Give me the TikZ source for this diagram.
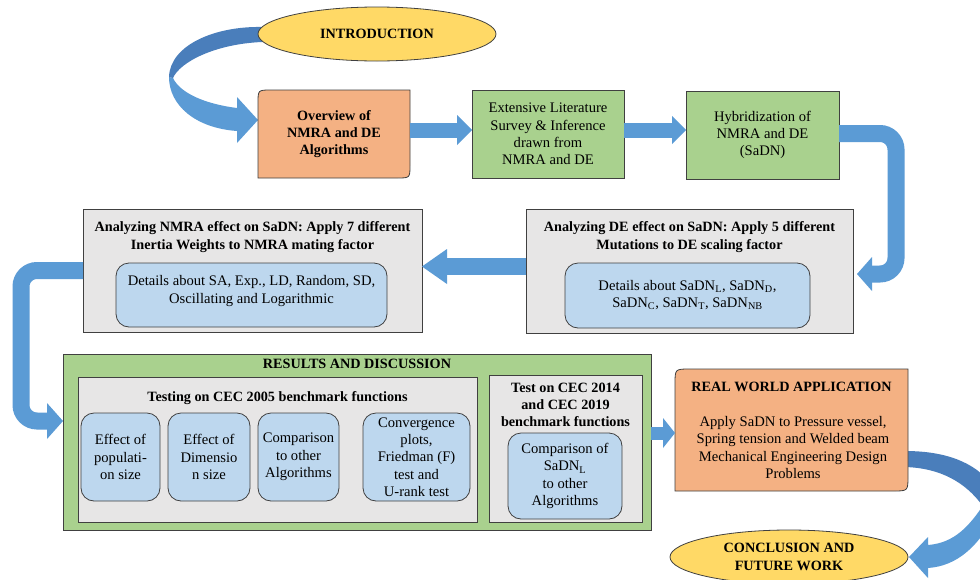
\documentclass[tikz,border=0pt]{standalone}
\usepackage{fontspec}
\setmainfont{Liberation Serif}
\usetikzlibrary{shapes.geometric,calc}
\definecolor{yel}{HTML}{FFD966}
\definecolor{ora}{HTML}{F4B183}
\definecolor{grn}{HTML}{A9D18E}
\definecolor{gry}{HTML}{E7E6E6}
\definecolor{lblu}{HTML}{BDD7EE}
\definecolor{arr}{HTML}{5B9BD5}
\definecolor{arrdk}{HTML}{4A7EBB}
\definecolor{edge}{HTML}{404040}
\tikzset{
  txt/.style={font=\fontsize{14.6}{17.3}\selectfont, align=center, inner sep=0pt, outer sep=0pt},
  btxt/.style={txt, font=\fontsize{14.2}{17.3}\selectfont\bfseries},
  box/.style={draw=edge, line width=0.8pt, inner sep=0pt, outer sep=0pt},
  rbox/.style={box, fill=lblu, rounded corners=13pt},
  oval/.style={box, ellipse, fill=yel, minimum width=238pt, minimum height=54pt},
  shaft/.style={draw=arr, line width=#1},
  shaft/.default=15pt,
  head/.style={fill=arr},
  headdk/.style={fill=arrdk},
}
\begin{document}
\begin{tikzpicture}[x=1pt,y=-1pt]
\clip (0,0) rectangle (980,579);
\fill[white] (0,0) rectangle (980,579);

% ---------- twisted ribbon: introduction -> overview
\fill[arr] (169,77) .. controls (169,105) and (195,128) .. (237,131) -- (237,143) -- (258,120) -- (237,97) -- (237,108) .. controls (205,104) and (180,93) .. (173,78) -- cycle;
\fill[arrdk] (262,27) .. controls (215,26) and (170,45) .. (169,77) -- (173,78) .. controls (180,62) and (215,44) .. (262,42) -- cycle;

% ---------- twisted ribbon: real world -> conclusion
\fill[arr] (992,496) -- (984,504) .. controls (970,525) and (955,543) .. (928,545) -- (928,537) -- (909,557) -- (928,578) -- (928,568) .. controls (958,566) and (978,545) .. (992,520) -- cycle;
\fill[arrdk] (905,451) .. controls (945,451) and (975,462) .. (992,485) -- (992,510) -- (982,505) .. controls (965,482) and (940,468) .. (905,467) -- cycle;

% ---------- top row
\node[oval, btxt] (intro) at (377,34) {INTRODUCTION};

\draw[box, fill=ora] (258,178) -- (258,103) .. controls (258,90) .. (271,90) -- (410,90) -- (410,165) .. controls (410,178) .. (397,178) -- cycle;
\node[btxt, minimum width=152pt, minimum height=88pt] (ov) at (334,134) {Overview of\\NMRA and DE\\Algorithms};

\node[box, txt, fill=grn, minimum width=152pt, minimum height=88pt] (ext) at (548,134) {Extensive Literature\\Survey \& Inference\\drawn from\\NMRA and DE};

\node[box, txt, fill=grn, minimum width=153pt, minimum height=88pt] (hyb) at (762.5,135) {Hybridization of\\NMRA and DE\\(SaDN)};

% ---------- second row
\node[box, fill=gry, minimum width=339pt, minimum height=123pt] (nmra) at (252.5,270.5) {};
\node[btxt] (nmrat) at (252.5,237) {Analyzing NMRA effect on SaDN: Apply 7 different\\Inertia Weights to NMRA mating factor};
\node[rbox, minimum width=271pt, minimum height=64pt] (nmrad) at (251.5,295) {};
\node[txt] (nmradt) at (251.5,291) {Details about SA, Exp., LD, Random, SD,\\Oscillating and Logarithmic};

\node[box, fill=gry, minimum width=327pt, minimum height=124pt] (de) at (689.5,271) {};
\node[btxt] (det) at (689.5,237) {Analyzing DE effect on SaDN: Apply 5 different\\Mutations to DE scaling factor};
\node[rbox, minimum width=245pt, minimum height=65pt] (ded) at (687.5,295.5) {};
\node[txt] (dedt) at (687.5,295) {Details about SaDN\textsubscript{L}, SaDN\textsubscript{D},\\SaDN\textsubscript{C}, SaDN\textsubscript{T}, SaDN\textsubscript{NB}};

% ---------- results
\node[box, fill=grn, minimum width=588pt, minimum height=176pt] (res) at (357,442) {};
\node[btxt] (rest) at (357,364) {RESULTS AND DISCUSSION};
\node[box, fill=gry, minimum width=399pt, minimum height=145pt] (cec05) at (277.5,449.5) {};
\node[btxt] (cec05t) at (277.5,398) {Testing on CEC 2005 benchmark functions};
\node[rbox, txt, minimum width=79pt, minimum height=88pt] (b1) at (120.5,457) {Effect of\\populati-\\on size};
\node[rbox, txt, minimum width=82pt, minimum height=88pt] (b2) at (209,457) {Effect of\\Dimensio\\n size};
\node[rbox, txt, minimum width=81pt, minimum height=88pt] (b3) at (298.5,457) {Comparison\\to other\\Algorithms};
\node[rbox, txt, minimum width=107pt, minimum height=88pt] (b4) at (416.5,457) {Convergence\\plots,\\Friedman (F)\\test and\\U-rank test};

\node[box, fill=gry, minimum width=153pt, minimum height=147pt] (cec14) at (565.5,448.5) {};
\node[btxt] (cec14t) at (565.5,405) {Test on CEC 2014\\and CEC 2019\\benchmark functions};
\node[rbox, txt, minimum width=114pt, minimum height=86pt] (b5) at (565,476) {Comparison of\\SaDN\textsubscript{L}\\to other\\Algorithms};

% ---------- real world
\draw[box, fill=ora] (675,491) -- (675,384) .. controls (675,369) .. (690,369) -- (908,369) -- (908,476) .. controls (908,491) .. (893,491) -- cycle;
\node[minimum width=233pt, minimum height=122pt, inner sep=0pt, outer sep=0pt] (rw) at (791.5,430) {};
\node[btxt] (rwt) at (791.5,387) {REAL WORLD APPLICATION};
\node[txt] (rwb) at (793,447.5) {Apply SaDN to Pressure vessel,\\Spring tension and Welded beam\\Mechanical Engineering Design\\Problems};

\node[oval, btxt] (conc) at (789,557) {CONCLUSION AND\\FUTURE WORK};

% ---------- straight block arrows
\draw[shaft] (ov.east |- 0,130) coordinate (a1s) -- ($(ext.west |- a1s)+(-15,0)$);
\fill[head] (ext.west |- a1s) -- ++(-15,-15) -- ++(0,30) -- cycle;

\draw[shaft] (ext.east |- 0,130) coordinate (a2s) -- ($(hyb.west |- a2s)+(-14,0)$);
\fill[head] (hyb.west |- a2s) -- ++(-14,-14) -- ++(0,28) -- cycle;

\draw[shaft=17pt] ($(de.west)+(0,-4.5)$) coordinate (a3s) -- ($(nmra.east |- a3s)+(25,0)$);
\fill[head] (nmra.east |- a3s) -- ++(25,-17.5) -- ++(0,35) -- cycle;

\draw[shaft=13pt] ($(res.east)+(0,-9)$) coordinate (a4s) -- ($(rw.west |- a4s)+(-12,0)$);
\fill[head] (rw.west |- a4s) -- ++(-12,-15) -- ++(0,30) -- cycle;

% ---------- bent arrows
\coordinate (tipR) at ($(de.east)+(4,3)$);
\draw[shaft=17pt, rounded corners=16pt] ($(hyb.east)+(0,-1.5)$) -- (896,133.5) -- (896,274) -- ($(tipR)+(15,0)$);
\fill[head] (tipR) -- ++(15,-17) -- ++(0,34) -- cycle;

\coordinate (tipL) at ($(res.west)+(0,-21)$);
\draw[shaft=17pt, rounded corners=16pt] (nmra.west) -- (21,270.5) -- (21,421) -- ($(tipL)+(-16,0)$);
\fill[head] (tipL) -- ++(-16,-18) -- ++(0,36) -- cycle;
\end{tikzpicture}
\end{document}
